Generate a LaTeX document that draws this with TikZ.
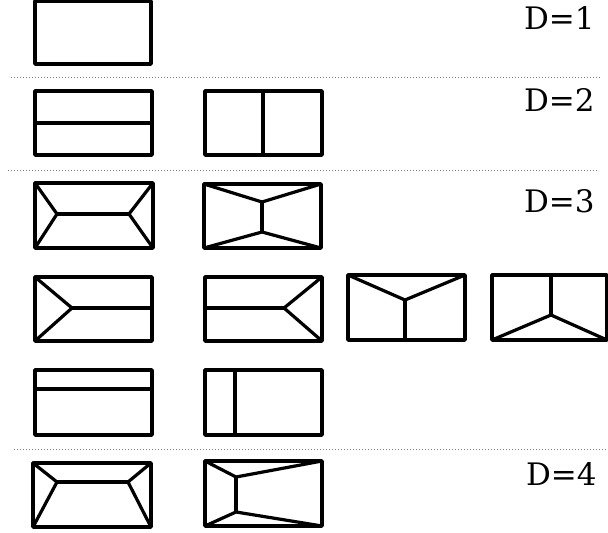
\documentclass[tikz,border=0pt]{standalone}
\usepackage{fontspec}
\setmainfont{DejaVu Serif}
\usetikzlibrary{positioning}

\begin{document}
\begin{tikzpicture}[x=0.5pt, y=-0.5pt, line join=round,
    panel/.style={draw, line width=1.75pt, fill=white},
    cut/.style={line width=1.6pt},
    sep/.style={gray, line width=0.5pt, dash pattern=on 0.6pt off 0.9pt},
    dlabel/.style={anchor=east, inner sep=0pt, font=\fontsize{15.5}{18}\selectfont}]
    \useasboundingbox (0,0) rectangle (608,533);

    % degree labels
    \node [dlabel] (d1) at (595,18) {D=1};
    \node [dlabel] (d2) at (595,100) {D=2};
    \node [dlabel] (d3) at (595,201) {D=3};
    \node [dlabel] (d4) at (597,474) {D=4};

    % separators
    \draw [sep] (11,78) -- (600,78);
    \draw [sep] (8,171) -- (597,171);
    \draw [sep] (14,449) -- (608,449);

    % D=1
    \draw [panel] (35,1) rectangle (151,64);

    % D=2
    \draw [panel] (35,91) rectangle (152,155);
    \draw [cut] (35,123) -- (152,123);
    \draw [panel] (205,91) rectangle (322,155);
    \draw [cut] (263,91) -- (263,155);

    % D=3, first row
    \draw [panel] (35,183) rectangle (153,248);
    \coordinate (a1) at (57,214);
    \coordinate (a2) at (129,214);
    \draw [cut] (35,183) -- (a1) -- (35,248);
    \draw [cut] (153,183) -- (a2) -- (153,248);
    \draw [cut] (a1) -- (a2);

    \draw [panel] (204,184) rectangle (321,248);
    \coordinate (b1) at (262,202);
    \coordinate (b2) at (262,232);
    \draw [cut] (204,184) -- (b1) -- (321,184);
    \draw [cut] (204,248) -- (b2) -- (321,248);
    \draw [cut] (b1) -- (b2);

    % D=3, second row
    \draw [panel] (35,277) rectangle (152,341);
    \coordinate (c1) at (72,308);
    \draw [cut] (35,277) -- (c1) -- (35,341);
    \draw [cut] (c1) -- (152,308);

    \draw [panel] (205,277) rectangle (322,341);
    \coordinate (e1) at (284,308);
    \draw [cut] (322,277) -- (e1) -- (322,341);
    \draw [cut] (e1) -- (205,308);

    \draw [panel] (348,275) rectangle (465,340);
    \coordinate (f1) at (405,300);
    \draw [cut] (348,275) -- (f1) -- (465,275);
    \draw [cut] (f1) -- (405,340);

    \draw [panel] (492,275) rectangle (607,340);
    \coordinate (g1) at (551,315);
    \draw [cut] (492,340) -- (g1) -- (607,340);
    \draw [cut] (g1) -- (551,275);

    % D=3, third row
    \draw [panel] (35,370) rectangle (152,435);
    \draw [cut] (35,389) -- (152,389);
    \draw [panel] (205,370) rectangle (322,435);
    \draw [cut] (235,370) -- (235,435);

    % D=4
    \draw [panel] (33,463) rectangle (151,527);
    \coordinate (h1) at (57,482);
    \coordinate (h2) at (128,482);
    \draw [cut] (33,463) -- (h1) -- (33,527);
    \draw [cut] (151,463) -- (h2) -- (151,527);
    \draw [cut] (h1) -- (h2);

    \draw [panel] (205,461) rectangle (322,526);
    \coordinate (k1) at (236,477);
    \coordinate (k2) at (236,512);
    \draw [cut] (205,461) -- (k1) -- (322,461);
    \draw [cut] (205,526) -- (k2) -- (322,526);
    \draw [cut] (k1) -- (k2);
\end{tikzpicture}
\end{document}
